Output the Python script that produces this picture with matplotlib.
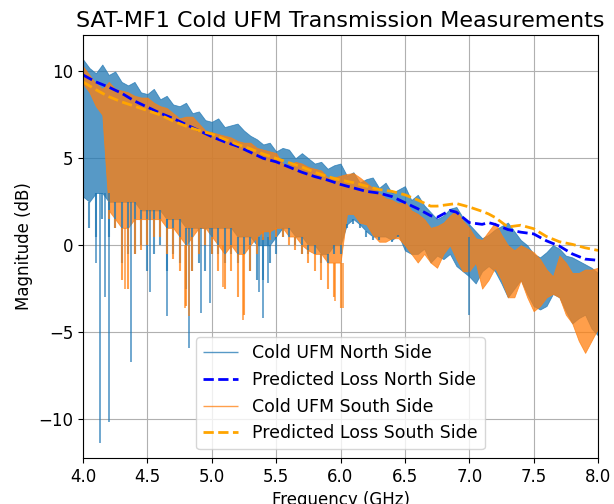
import matplotlib
matplotlib.use("Agg")
import matplotlib.pyplot as plt
import numpy as np

# frequency grid of the traces (GHz)
freq = np.linspace(4.0, 8.0, 81)

# Cold UFM North Side: top of trace, bottom of the solid band, bottom of the stripes (dB)
north_hi = [10.7, 10.2, 9.9, 10.4, 9.8, 10.0, 9.4, 9.2, 9.4, 8.8,
            8.7, 9.0, 8.4, 8.6, 8.1, 8.0, 8.2, 7.6, 7.7, 7.2,
            7.1, 7.3, 6.8, 6.9, 7.0, 6.6, 6.3, 6.1, 5.8, 5.9,
            5.4, 5.6, 5.5, 5.0, 5.3, 5.0, 4.7, 4.8, 4.4, 4.6,
            4.7, 4.0, 4.2, 3.6, 3.8, 3.9, 3.3, 3.6, 3.0, 3.2,
            3.4, 2.6, 2.9, 2.3, 1.9, 1.5, 1.7, 2.1, 2.2, 1.6,
            1.2, 0.8, 0.4, 0.6, 0.9, 1.1, 1.3, 0.8, 0.3, 0.0,
            -0.5, -0.7, -0.4, 0.0, -0.2, -0.6, -0.7, -0.9, -1.1, -1.3,
            -1.6]
north_floor = [2.8, 2.5, 3.0, 3.0, 2.5, 2.5, 2.5, 2.5, 2.5, 2.0,
               2.0, 2.0, 2.0, 1.5, 1.5, 1.5, 1.0, 1.0, 1.0, 1.0,
               1.0, 1.0, 1.0, 1.0, 0.5, 0.5, 0.5, 0.0, 0.0, 0.0,
               0.5, 1.0, 1.0, 0.5, 0.5, 0.0, 0.0, -0.5, -0.5, 0.0,
               0.0, 1.2, 1.5, 1.2, 0.8, 0.5, 0.5, 0.5, 0.3, 0.6,
               -0.3, -0.5, -0.5, -0.2, -1.0, -0.6, -0.8, -0.5, -1.2, -1.5,
               -1.8, -2.2, -1.5, -1.2, -1.5, -2.2, -3.0, -2.5, -2.0, -2.8,
               -3.5, -3.7, -3.5, -2.8, -3.0, -3.8, -4.5, -4.2, -4.0, -4.8,
               -5.2]
north_lo = [1.5, 1.0, 0.5, 1.5, 0.5, 1.0, -1.0, -0.5, -0.5, 0.0,
            -1.5, -0.5, 0.0, -1.5, -0.5, -1.0, -2.5, -1.5, -1.0, -1.5,
            -0.5, -0.5, -1.0, -0.5, -1.0, -0.5, -1.5, -2.0, -2.0, -1.0,
            -0.5, 0.5, 0.5, 0.0, -0.5, -0.5, -0.5, -1.0, -1.0, -0.5,
            -0.5, 1.0, 1.2, 1.0, 0.5, 0.3, 0.3, 0.5, 0.2, 0.5,
            -0.3, -0.5, -0.5, -0.2, -1.0, -0.6, -0.8, -0.5, -1.2, -1.5,
            -1.8, -2.2, -1.5, -1.2, -1.5, -2.2, -3.0, -2.5, -2.0, -2.8,
            -3.5, -3.7, -3.5, -2.8, -3.0, -3.8, -4.5, -4.2, -4.0, -4.8,
            -5.2]
# deep single-sample dips of the north trace
north_spike_f = [4.10, 4.135, 4.17, 4.20, 4.37, 4.52, 4.65, 4.82, 4.92, 4.99, 5.37, 5.40, 5.44, 7.00]
north_spike_lo = [-1.0, -11.4, -3.0, -10.2, -6.7, -2.7, -4.1, -5.9, -3.9, -3.3, -2.7, -4.2, -2.2, -4.0]
north_spike_hi = [3.0, 3.0, 3.0, 3.0, 2.5, 2.0, 1.5, 1.0, 1.0, 1.0, 0.5, 0.5, 0.5, 0.5]

# Cold UFM South Side
south_hi = [10.3, 9.8, 9.3, 9.0, 9.4, 9.0, 8.9, 8.8, 8.6, 8.5,
            8.5, 8.2, 8.0, 7.9, 7.6, 7.3, 7.4, 7.4, 7.0, 6.6,
            6.5, 6.4, 6.3, 6.2, 6.0, 5.9, 5.9, 5.6, 5.5, 5.4,
            5.3, 4.7, 4.6, 4.8, 4.7, 4.5, 4.4, 4.3, 3.9, 3.9,
            4.0, 4.1, 4.15, 3.9, 3.6, 3.3, 3.0, 2.7, 2.6, 2.4,
            2.5, 2.0, 1.8, 1.5, 1.0, 1.1, 1.3, 1.7, 2.0, 1.4,
            1.0, 0.4, 0.3, 0.8, 1.3, 0.6, 0.0, -0.3, 0.0, -0.2,
            -0.4, -0.8, -1.4, -1.8, -0.6, -1.0, -1.6, -1.6, -1.4, -1.4,
            -1.3]
south_floor = [9.3, 8.8, 8.0, 7.5, 2.0, 1.5, 1.0, 1.0, 1.5, 1.5,
               1.5, 1.5, 1.5, 1.0, 1.0, 0.5, 0.0, 0.5, 1.0, 1.0,
               0.5, 0.0, -0.5, 0.0, -0.5, -0.5, 0.0, 0.5, 0.8, 0.8,
               1.0, 1.0, 0.5, 0.5, 0.0, -0.3, -0.5, -0.5, -1.0, -1.0,
               -1.0, 1.8, 1.8, 1.3, 1.2, 0.6, 0.2, 0.2, 0.4, 0.4,
               0.0, -0.5, -1.0, -0.5, -1.0, -1.3, -0.5, 0.0, -0.8, -1.5,
               -1.5, -1.0, -2.5, -2.0, -1.3, -2.0, -3.0, -3.0, -2.0, -3.0,
               -3.8, -3.5, -3.0, -2.8, -3.0, -4.0, -4.5, -5.5, -6.2, -5.5,
               -4.8]
south_lo = [9.3, 8.8, 8.0, 7.5, 1.5, 1.0, -2.0, -2.5, -0.5, -0.3,
            0.0, 0.5, 0.5, -0.5, -0.8, -1.5, -3.5, -1.5, -0.5, 0.0,
            -0.5, -1.5, -2.5, -1.5, -3.0, -4.0, -1.5, -0.5, 0.3, 0.3,
            0.5, 0.5, 0.0, -0.3, -0.5, -1.0, -1.5, -2.0, -2.5, -3.0,
            -3.6, 1.8, 1.8, 1.3, 1.2, 0.6, 0.2, 0.2, 0.4, 0.4,
            0.0, -0.5, -1.0, -0.5, -1.0, -1.3, -0.5, 0.0, -0.8, -1.5,
            -1.5, -1.0, -2.5, -2.0, -1.3, -2.0, -3.0, -3.0, -2.0, -3.0,
            -3.8, -3.5, -3.0, -2.8, -3.0, -4.0, -4.5, -5.5, -6.2, -5.5,
            -4.8]
south_spike_f = [4.33, 4.79, 4.82, 5.09, 5.24, 5.96, 6.02]
south_spike_lo = [-2.5, -3.6, -4.1, -2.4, -4.3, -3.2, -3.6]
south_spike_hi = [1.0, 0.0, 0.0, 0.0, -0.5, -1.0, -1.0]

# predicted loss curves
pred_f = [4.0, 4.1, 4.2, 4.3, 4.4, 4.5, 4.6, 4.7, 4.8, 4.9,
          5.0, 5.1, 5.2, 5.3, 5.4, 5.5, 5.6, 5.7, 5.8, 5.9,
          6.0, 6.1, 6.2, 6.3, 6.4, 6.5, 6.6, 6.7, 6.75, 6.8,
          6.85, 6.9, 7.0, 7.1, 7.15, 7.2, 7.3, 7.4, 7.5, 7.6,
          7.7, 7.8, 7.9, 8.0]
pred_north = [9.8, 9.4, 9.1, 8.75, 8.3, 7.95, 7.6, 7.3, 6.95, 6.6,
              6.25, 5.95, 5.7, 5.35, 5.0, 4.8, 4.5, 4.2, 3.95, 3.75,
              3.5, 3.3, 3.1, 3.0, 2.8, 2.45, 2.1, 1.7, 1.6, 1.8,
              2.0, 1.9, 1.3, 1.2, 1.3, 1.2, 0.9, 0.75, 0.65, 0.25,
              -0.05, -0.5, -0.8, -0.87]
pred_south = [9.4, 8.95, 8.55, 8.25, 8.0, 7.75, 7.5, 7.15, 6.85, 6.6,
              6.4, 6.1, 5.8, 5.55, 5.25, 5.0, 4.75, 4.5, 4.2, 3.95,
              3.75, 3.6, 3.4, 3.2, 3.1, 2.9, 2.6, 2.25, 2.25, 2.3,
              2.35, 2.4, 2.2, 1.95, 1.8, 1.6, 1.05, 1.15, 0.95, 0.5,
              0.2, 0.05, -0.15, -0.3]

plt.rcParams['font.size'] = 12
fig = plt.figure(figsize=(6.14, 5.04), dpi=100)
ax = fig.add_axes([83/614, 46/504, 515/614, 423/504])

a = 0.75
# north trace
ax.fill_between(freq, north_floor, north_hi, color='C0', alpha=a, linewidth=0.6)
ax.vlines(freq, north_lo, north_floor, colors='C0', alpha=a, linewidth=1.5, label='Cold UFM North Side')
ax.vlines(north_spike_f, north_spike_lo, north_spike_hi, colors='C0', alpha=a, linewidth=1.2)
ax.plot(pred_f, pred_north, 'b--', linewidth=2, label='Predicted Loss North Side')
# south trace
ax.fill_between(freq, south_floor, south_hi, color='C1', alpha=a, linewidth=0.6)
ax.vlines(freq, south_lo, south_floor, colors='C1', alpha=a, linewidth=1.5, label='Cold UFM South Side')
ax.vlines(south_spike_f, south_spike_lo, south_spike_hi, colors='C1', alpha=a, linewidth=1.2)
ax.plot(pred_f, pred_south, '--', color='orange', linewidth=2, label='Predicted Loss South Side')

ax.set_xlim(4.0, 8.0)
ax.set_ylim(-12.25, 12.1)
ax.set_title('SAT-MF1 Cold UFM Transmission Measurements', fontsize=16)
ax.set_xlabel('Frequency (GHz)')
ax.set_ylabel('Magnitude (dB)')
ax.grid(True)
ax.set_axisbelow(True)
leg = ax.legend(loc='lower center', fontsize=12.5)
for h in leg.legend_handles[::2]:
    h.set_linewidth(1)

fig.savefig('out.png', dpi=100)
